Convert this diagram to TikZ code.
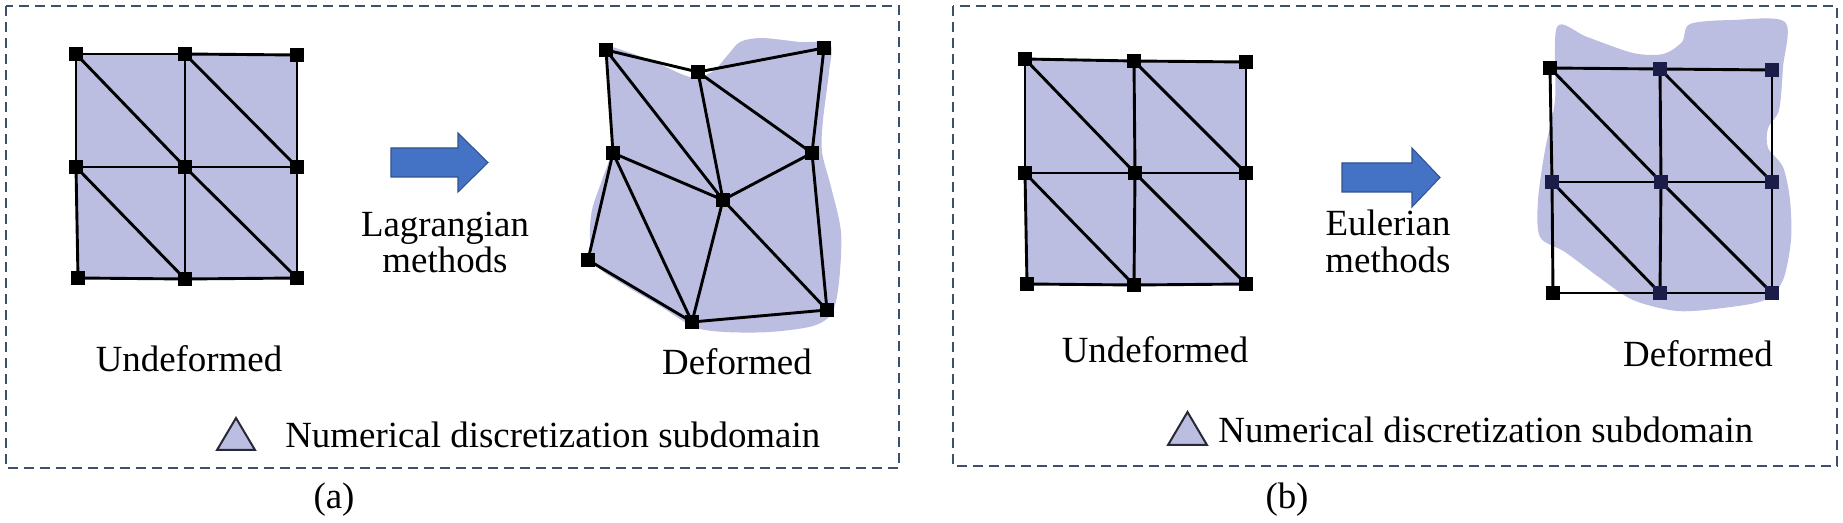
\documentclass[tikz,border=0pt]{standalone}
\usepackage{fontspec}
\setmainfont{Liberation Serif}
\definecolor{fillc}{RGB}{187,189,225}
\definecolor{framec}{RGB}{62,78,110}
\definecolor{arrowc}{RGB}{68,114,196}
\definecolor{arrowd}{RGB}{47,82,143}
\definecolor{nodeb}{RGB}{28,28,72}
\definecolor{trid}{RGB}{40,40,55}
\pgfdeclarelayer{bg}
\pgfdeclarelayer{edges}
\pgfsetlayers{bg,edges,main}
\newcommand\gridedges[1]{%
  \foreach \u/\v in {1/2,2/3,4/5,5/6,7/8,8/9,1/4,4/7,2/5,5/8,3/6,6/9,1/5,2/6,4/8,5/9}
    \draw[mesh] (#1\u.center) -- (#1\v.center);}
\begin{document}
\begin{tikzpicture}[x=0.02cm,y=-0.02cm,
  nd/.style={rectangle, fill=black, draw=none, minimum size=0.29cm, inner sep=0pt},
  ndb/.style={nd, fill=nodeb},
  mesh/.style={line width=0.058cm, black},
  frame/.style={draw=framec, line width=0.05cm, dash pattern=on 0.2cm off 0.12cm},
  lbl/.style={font=\fontsize{21}{25}\selectfont, inner sep=0pt, anchor=base},
  tri/.style={fill=fillc, draw=trid, line width=0.04cm, line join=miter},
  bigarrow/.style={fill=arrowc, draw=arrowd, line width=0.6pt, line join=miter}]
\useasboundingbox (0,0) rectangle (1843,523);

% frames
\draw[frame] (6,6) rectangle (899,468);
\draw[frame] (953,6) rectangle (1837,466);

% ---------- (a) undeformed ----------
\foreach \n/\x/\y in {a1/76/54, a2/185/54, a3/297/55, a4/76/167, a5/185/167, a6/297/167, a7/78/278, a8/185/279, a9/297/278}
  \node[nd] (\n) at (\x,\y) {};
\begin{pgfonlayer}{bg}
  \fill[fillc] (a1.center) -- (a3.center) -- (a9.center) -- (a7.center) -- cycle;
\end{pgfonlayer}
\begin{pgfonlayer}{edges}
  \gridedges{a}
\end{pgfonlayer}

% arrow (a)
\draw[bigarrow] (391,148) -- (458,148) -- (458,133) -- (488,162.5) -- (458,192) -- (458,177) -- (391,177) -- cycle;
\node[lbl] (la1) at (445,237) {Lagrangian};
\node[lbl] (la2) at (445,273) {methods};

% ---------- (a) deformed ----------
\foreach \n/\x/\y in {dA/606/50, dB/698/72, dC/824/48, dD/613/153, dE/812/153, dF/723/200, dG/588/260, dH/692/322, dI/827/310}
  \node[nd] (\n) at (\x,\y) {};
\begin{pgfonlayer}{bg}
  \fill[fillc] plot[smooth cycle, tension=0.5] coordinates {
    (606,46) (650,60) (690,77) (712,72) (727,56) (740,42) (762,38) (800,42) (830,44)
    (829,72) (823,120) (822,152) (831,187) (841,232) (839,282) (832,313) (813,326)
    (770,332) (725,332) (694,327) (660,306) (626,286) (597,266) (590,240) (592,210)
    (602,180) (611,152) (611,108) (608,62)};
\end{pgfonlayer}
\begin{pgfonlayer}{edges}
  \foreach \u/\v in {A/B,B/C,A/D,A/F,B/F,B/E,C/E,D/F,F/E,D/G,D/H,G/H,F/H,F/I,E/I,H/I}
    \draw[mesh] (d\u.center) -- (d\v.center);
\end{pgfonlayer}

\node[lbl] (ua) at (189,372) {Undeformed};
\node[lbl] (da) at (737,375) {Deformed};
\draw[tri] (217,450) -- (236,418) -- (255,450) -- cycle;
\node[lbl, anchor=base west] (lega) at (285,448) {Numerical discretization subdomain};
\node[lbl] (capa) at (334,508) {(a)};

% ---------- (b) undeformed ----------
\foreach \n/\x/\y in {b1/1025/59, b2/1134/61, b3/1246/62, b4/1025/173, b5/1135/173, b6/1246/173, b7/1027/284, b8/1134/285, b9/1246/284}
  \node[nd] (\n) at (\x,\y) {};
\begin{pgfonlayer}{bg}
  \fill[fillc] (b1.center) -- (b3.center) -- (b9.center) -- (b7.center) -- cycle;
\end{pgfonlayer}
\begin{pgfonlayer}{edges}
  \gridedges{b}
\end{pgfonlayer}

% arrow (b)
\draw[bigarrow] (1342,163) -- (1412,163) -- (1412,148) -- (1440,177.5) -- (1412,207) -- (1412,192) -- (1342,192) -- cycle;
\node[lbl] (eb1) at (1388,236) {Eulerian};
\node[lbl] (eb2) at (1388,273) {methods};

% ---------- (b) deformed ----------
\node[nd] (c1) at (1550,68) {};
\node[nd] (c7) at (1553,293) {};
\foreach \n/\x/\y in {c2/1660/69, c3/1772/70, c4/1552/182, c5/1661/182, c6/1772/182, c8/1660/293, c9/1772/293}
  \node[ndb] (\n) at (\x,\y) {};
\begin{pgfonlayer}{bg}
  \fill[fillc] plot[smooth cycle, tension=0.5] coordinates {
    (1557,27) (1587,37) (1633,53) (1663,54) (1682,42) (1690,24) (1733,20) (1785,22)
    (1783,67) (1779,110) (1768,128) (1768,148) (1783,167) (1790,200) (1791,240)
    (1783,280) (1765,300) (1723,308) (1677,311) (1633,300) (1600,278) (1565,252)
    (1540,237) (1538,200) (1545,150) (1555,100)};
\end{pgfonlayer}
\begin{pgfonlayer}{edges}
  \gridedges{c}
\end{pgfonlayer}

\node[lbl] (ub) at (1155,363) {Undeformed};
\node[lbl] (db) at (1698,367) {Deformed};
\draw[tri] (1168,445) -- (1187.5,412) -- (1207,445) -- cycle;
\node[lbl, anchor=base west] (legb) at (1218,442) {Numerical discretization subdomain};
\node[lbl] (capb) at (1287,508) {(b)};
\end{tikzpicture}
\end{document}
